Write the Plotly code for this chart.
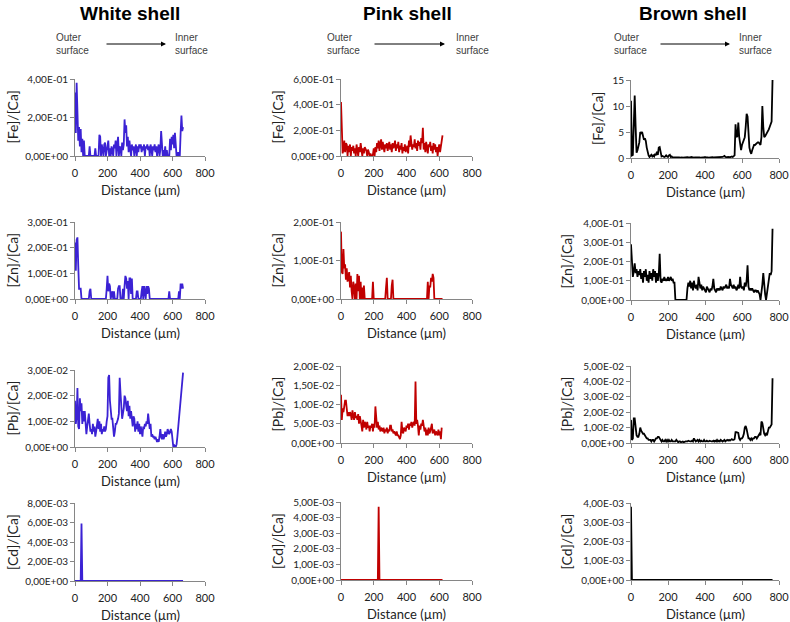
import plotly.graph_objects as go

W, H = 790, 622
STEP = 5  # sampling step along the profile (µm)

# ---------------- data (ratios to Ca) ----------------
white_fe = [0.33,0.12,0.38,0.16,0.08,0.15,0.05,0.14,0.02,0.09,
            0.0,0.08,0.0,0.0,0.0,0.0,0.0,0.0,0.05,0.0,
            0.0,0.0,0.0,0.0,0.0,0.04,0.0,0.0,0.0,0.0,
            0.11,0.10,0.0,0.06,0.03,0.0,0.06,0.07,0.0,0.03,
            0.05,0.08,0.0,0.04,0.0,0.05,0.03,0.0,0.06,0.04,
            0.08,0.0,0.06,0.10,0.0,0.05,0.04,0.0,0.07,0.03,
            0.06,0.19,0.12,0.16,0.05,0.10,0.02,0.08,0.04,0.0,
            0.06,0.03,0.05,0.0,0.04,0.06,0.0,0.05,0.02,0.06,
            0.04,0.06,0.02,0.05,0.03,0.06,0.0,0.05,0.04,0.06,
            0.03,0.05,0.0,0.06,0.04,0.0,0.05,0.03,0.06,0.02,
            0.05,0.0,0.04,0.06,0.0,0.03,0.13,0.07,0.0,0.03,
            0.0,0.05,0.0,0.03,0.0,0.0,0.0,0.09,0.03,0.10,
            0.06,0.11,0.04,0.12,0.03,0.0,0.0,0.02,0.0,0.0,
            0.12,0.21,0.13,0.15]
white_zn = [0.22,0.11,0.23,0.24,0.13,0.04,0.04,0.04,0.0,0.0,
            0.0,0.0,0.0,0.0,0.0,0.0,0.0,0.0,0.03,0.04,
            0.0,0.0,0.0,0.0,0.0,0.0,0.0,0.0,0.0,0.0,
            0.0,0.0,0.0,0.0,0.0,0.0,0.0,0.0,0.0,0.04,
            0.09,0.03,0.06,0.05,0.0,0.02,0.03,0.0,0.03,0.0,
            0.0,0.0,0.0,0.04,0.05,0.05,0.0,0.0,0.0,0.04,
            0.0,0.05,0.09,0.08,0.04,0.07,0.0,0.08,0.08,0.02,
            0.08,0.0,0.0,0.0,0.0,0.0,0.03,0.03,0.0,0.0,
            0.0,0.0,0.03,0.05,0.0,0.05,0.03,0.0,0.05,0.02,
            0.05,0.04,0.0,0.0,0.0,0.0,0.0,0.0,0.0,0.0,
            0.0,0.0,0.0,0.0,0.0,0.0,0.0,0.0,0.0,0.0,
            0.0,0.0,0.0,0.0,0.0,0.0,0.03,0.0,0.0,0.0,
            0.0,0.0,0.0,0.0,0.0,0.0,0.0,0.0,0.03,0.0,
            0.06,0.04,0.06,0.04]
white_pb = [0.018,0.009,0.012,0.023,0.008,0.007,0.019,0.014,0.017,0.009,
            0.014,0.010,0.014,0.008,0.005,0.008,0.010,0.013,0.009,0.006,
            0.007,0.005,0.009,0.006,0.008,0.004,0.006,0.009,0.011,0.007,
            0.010,0.006,0.009,0.005,0.007,0.006,0.008,0.006,0.007,0.010,
            0.012,0.027,0.028,0.018,0.012,0.011,0.011,0.008,0.004,0.006,
            0.009,0.009,0.010,0.011,0.013,0.027,0.021,0.012,0.011,0.013,
            0.015,0.020,0.019,0.016,0.014,0.018,0.012,0.016,0.011,0.014,
            0.009,0.008,0.012,0.011,0.006,0.009,0.007,0.010,0.006,0.009,
            0.005,0.008,0.006,0.004,0.008,0.007,0.009,0.008,0.010,0.009,
            0.013,0.008,0.007,0.009,0.004,0.005,0.004,0.004,0.003,0.004,
            0.003,0.002,0.003,0.002,0.004,0.007,0.004,0.003,0.005,0.003,
            0.004,0.006,0.004,0.005,0.007,0.006,0.005,0.006,0.007,0.006,
            0.001,0.0,0.001,0.0,0.0,0.001,0.004,0.008,0.012,0.016,
            0.020,0.024,0.027,0.029]
white_cd_dist = [0, 35, 40, 45, 665]
white_cd = [0.0, 0.0, 0.0059, 0.0, 0.0]

pink_fe = [0.42,0.15,0.02,0.05,0.12,0.03,0.10,0.09,0.0,0.08,
           0.03,0.09,0.0,0.07,0.04,0.08,0.02,0.06,0.0,0.09,
           0.04,0.0,0.07,0.03,0.10,0.05,0.0,0.06,0.02,0.07,
           0.06,0.04,0.0,0.05,0.03,0.0,0.02,0.0,0.0,0.01,
           0.06,0.0,0.07,0.03,0.10,0.06,0.12,0.04,0.09,0.13,
           0.05,0.11,0.07,0.03,0.09,0.06,0.10,0.04,0.08,0.11,
           0.05,0.09,0.03,0.10,0.06,0.08,0.12,0.04,0.09,0.06,
           0.11,0.03,0.08,0.05,0.10,0.02,0.07,0.04,0.09,0.03,
           0.06,0.08,0.02,0.12,0.07,0.16,0.10,0.05,0.09,0.07,
           0.13,0.06,0.10,0.04,0.12,0.08,0.11,0.05,0.14,0.10,
           0.22,0.05,0.10,0.03,0.11,0.06,0.02,0.09,0.07,0.11,
           0.04,0.08,0.02,0.10,0.05,0.09,0.03,0.07,0.0,0.06,
           0.09,0.03,0.08,0.13,0.16]
pink_zn = [0.175,0.07,0.065,0.13,0.08,0.09,0.05,0.08,0.045,0.06,
           0.07,0.03,0.06,0.02,0.0,0.045,0.03,0.0,0.04,0.0,
           0.065,0.02,0.06,0.0,0.045,0.0,0.03,0.0,0.035,0.0,
           0.0,0.0,0.0,0.0,0.0,0.0,0.0,0.0,0.0,0.045,
           0.0,0.0,0.0,0.0,0.0,0.0,0.0,0.0,0.0,0.0,
           0.0,0.0,0.0,0.0,0.0,0.03,0.055,0.0,0.0,0.0,
           0.0,0.0,0.035,0.05,0.0,0.0,0.0,0.0,0.0,0.0,
           0.0,0.0,0.0,0.0,0.0,0.0,0.0,0.0,0.0,0.0,
           0.0,0.0,0.0,0.0,0.0,0.0,0.0,0.0,0.0,0.0,
           0.0,0.0,0.0,0.0,0.0,0.0,0.0,0.0,0.0,0.0,
           0.0,0.0,0.0,0.0,0.0,0.0,0.045,0.0,0.035,0.03,
           0.055,0.045,0.065,0.055,0.0,0.0,0.0,0.0,0.0,0.0,
           0.0,0.0,0.0,0.0,0.0]
pink_pb = [0.0125,0.006,0.009,0.008,0.0095,0.011,0.011,0.008,0.007,0.008,
           0.007,0.008,0.0075,0.006,0.0085,0.007,0.006,0.008,0.0065,0.007,
           0.006,0.0075,0.005,0.007,0.006,0.0045,0.003,0.006,0.004,0.0055,
           0.005,0.0035,0.0055,0.004,0.0045,0.003,0.0045,0.004,0.005,0.003,
           0.005,0.004,0.0095,0.0055,0.004,0.0055,0.0035,0.0045,0.003,0.004,
           0.0035,0.003,0.004,0.0025,0.0035,0.003,0.004,0.0025,0.0035,0.003,
           0.0045,0.0045,0.003,0.0035,0.0025,0.003,0.0025,0.002,0.003,0.002,
           0.002,0.0015,0.001,0.002,0.0055,0.003,0.0025,0.004,0.0035,0.003,
           0.0045,0.004,0.005,0.0035,0.005,0.0045,0.0055,0.004,0.005,0.0055,
           0.0045,0.016,0.005,0.006,0.0045,0.002,0.0045,0.0035,0.005,0.0045,
           0.006,0.0035,0.003,0.004,0.002,0.0035,0.002,0.004,0.0025,0.003,
           0.004,0.005,0.0025,0.003,0.0035,0.002,0.003,0.0025,0.002,0.0035,
           0.002,0.003,0.001,0.004]
pink_cd_dist = [0, 225, 230, 235, 620]
pink_cd = [0.0, 0.0, 0.0047, 0.0, 0.0]

brown_fe = [11,0.5,0.6,6,12,6,1,1.5,2.5,3,
            5,4.8,5,4,3.5,3.8,3.3,2,1,0.5,
            0.2,0.4,0.6,0.3,0.5,0.3,0.8,0.5,1.2,0.6,
            2,2.1,0.6,0.3,0.4,0.3,0.2,0.3,0.5,0.3,
            0.2,0.5,0.6,0.2,0.3,0.1,0.1,0.2,0.1,0.1,
            0.1,0.1,0.1,0.05,0.1,0.1,0.05,0.1,0.1,0.05,
            0.1,0.15,0.1,0.05,0.1,0.2,0.1,0.1,0.05,0.1,
            0.1,0.15,0.2,0.1,0.1,0.05,0.1,0.15,0.1,0.1,
            0.2,0.1,0.15,0.1,0.05,0.1,0.1,0.2,0.15,0.1,
            0.1,0.15,0.1,0.1,0.2,0.1,0.15,0.1,0.1,0.2,
            0.3,0.4,0.2,0.1,0.15,0.2,0.1,0.15,0.2,0.3,
            0.2,0.3,0.5,6.5,4,4.2,6.8,4,2,1.5,
            2.5,3,3.5,4,6,8.5,8,4,2,1.2,
            0.8,1.5,2.2,2.5,2.5,2.7,3,3,3,2.8,
            2.5,4,10,6,4,4.2,4.5,4.8,5,5.5,
            6,6.5,7,15]
brown_zn = [0.29,0.17,0.12,0.15,0.19,0.14,0.16,0.12,0.15,0.13,
            0.16,0.11,0.14,0.09,0.15,0.12,0.16,0.10,0.13,0.09,
            0.15,0.11,0.14,0.10,0.16,0.12,0.15,0.09,0.14,0.10,
            0.13,0.24,0.10,0.09,0.11,0.10,0.12,0.10,0.11,0.10,
            0.12,0.10,0.11,0.12,0.10,0.11,0.09,0.09,0.0,0.0,
            0.0,0.0,0.0,0.0,0.0,0.0,0.0,0.0,0.0,0.0,
            0.0,0.06,0.09,0.07,0.10,0.06,0.09,0.05,0.10,0.07,
            0.06,0.08,0.05,0.12,0.07,0.06,0.08,0.05,0.07,0.06,
            0.05,0.04,0.07,0.06,0.05,0.04,0.06,0.05,0.07,0.11,
            0.06,0.05,0.04,0.06,0.05,0.06,0.05,0.07,0.06,0.05,
            0.07,0.06,0.07,0.08,0.06,0.07,0.06,0.11,0.08,0.07,
            0.06,0.08,0.06,0.07,0.05,0.06,0.08,0.06,0.12,0.07,
            0.06,0.07,0.05,0.09,0.07,0.10,0.18,0.07,0.05,0.06,
            0.05,0.06,0.05,0.04,0.05,0.05,0.04,0.05,0.04,0.03,
            0.0,0.03,0.08,0.14,0.06,0.03,0.0,0.04,0.06,0.10,
            0.14,0.13,0.15,0.37]
brown_pb = [0.015,0.002,0.003,0.016,0.016,0.008,0.005,0.004,0.004,0.006,
            0.010,0.008,0.007,0.006,0.006,0.005,0.004,0.003,0.003,0.002,
            0.002,0.002,0.001,0.002,0.002,0.001,0.002,0.003,0.003,0.004,
            0.004,0.003,0.002,0.001,0.002,0.001,0.001,0.002,0.001,0.002,
            0.001,0.002,0.001,0.001,0.002,0.001,0.001,0.001,0.001,0.002,
            0.001,0.0005,0.001,0.001,0.0005,0.001,0.001,0.0005,0.001,0.001,
            0.001,0.001,0.0015,0.001,0.001,0.001,0.0015,0.001,0.003,0.002,
            0.001,0.0015,0.002,0.001,0.002,0.001,0.0015,0.001,0.001,0.002,
            0.001,0.001,0.0015,0.001,0.001,0.0015,0.001,0.001,0.001,0.0015,
            0.001,0.0015,0.001,0.002,0.001,0.0015,0.001,0.002,0.0015,0.001,
            0.0015,0.002,0.001,0.0015,0.002,0.0015,0.002,0.0015,0.002,0.0025,
            0.002,0.002,0.0025,0.007,0.007,0.0065,0.0065,0.003,0.002,0.003,
            0.003,0.004,0.006,0.010,0.011,0.009,0.005,0.003,0.003,0.002,
            0.003,0.002,0.003,0.003,0.004,0.004,0.003,0.004,0.005,0.006,
            0.005,0.014,0.013,0.008,0.006,0.005,0.006,0.005,0.009,0.010,
            0.010,0.011,0.012,0.042]
brown_cd_dist = [0, 5, 765]
brown_cd = [0.0038, 0.0, 0.0]

# ---------------- tick labels ----------------
x_ticks = [0, 200, 400, 600, 800]
x_ticktext = ["0", "200", "400", "600", "800"]

yt_white_fe = [0, 0.2, 0.4];            yl_white_fe = ["0,00E+00", "2,00E-01", "4,00E-01"]
yt_white_zn = [0, 0.1, 0.2, 0.3];       yl_white_zn = ["0,00E+00", "1,00E-01", "2,00E-01", "3,00E-01"]
yt_white_pb = [0, 0.01, 0.02, 0.03];    yl_white_pb = ["0,00E+00", "1,00E-02", "2,00E-02", "3,00E-02"]
yt_white_cd = [0, 0.002, 0.004, 0.006, 0.008]
yl_white_cd = ["0,00E+00", "2,00E-03", "4,00E-03", "6,00E-03", "8,00E-03"]
yt_pink_fe = [0, 0.2, 0.4, 0.6];        yl_pink_fe = ["0,00E+00", "2,00E-01", "4,00E-01", "6,00E-01"]
yt_pink_zn = [0, 0.1, 0.2];             yl_pink_zn = ["0,00E+00", "1,00E-01", "2,00E-01"]
yt_pink_pb = [0, 0.005, 0.01, 0.015, 0.02]
yl_pink_pb = ["0,00E+00", "5,00E-03", "1,00E-02", "1,50E-02", "2,00E-02"]
yt_pink_cd = [0, 0.001, 0.002, 0.003, 0.004, 0.005]
yl_pink_cd = ["0,00E+00", "1,00E-03", "2,00E-03", "3,00E-03", "4,00E-03", "5,00E-03"]
yt_brown_fe = [0, 5, 10, 15];           yl_brown_fe = ["0", "5", "10", "15"]
yt_brown_zn = [0, 0.1, 0.2, 0.3, 0.4]
yl_brown_zn = ["0,00E+00", "1,00E-01", "2,00E-01", "3,00E-01", "4,00E-01"]
yt_brown_pb = [0, 0.01, 0.02, 0.03, 0.04, 0.05]
yl_brown_pb = ["0,00E+00", "1,00E-02", "2,00E-02", "3,00E-02", "4,00E-02", "5,00E-02"]
yt_brown_cd = [0, 0.001, 0.002, 0.003, 0.004]
yl_brown_cd = ["0,00E+00", "1,00E-03", "2,00E-03", "3,00E-03", "4,00E-03"]

shells = ["White shell", "Pink shell", "Brown shell"]
colors = ["#3b22d4", "#c00000", "#000000"]
ylabels = ["[Fe]/[Ca]", "[Zn]/[Ca]", "[Pb]/[Ca]", "[Cd]/[Ca]"]


def dist(vals):
    return [i * STEP for i in range(len(vals))]


# (col, row, x, y, tickvals, ticktext)
panels = [
    (0, 0, dist(white_fe), white_fe, yt_white_fe, yl_white_fe),
    (0, 1, dist(white_zn), white_zn, yt_white_zn, yl_white_zn),
    (0, 2, dist(white_pb), white_pb, yt_white_pb, yl_white_pb),
    (0, 3, white_cd_dist, white_cd, yt_white_cd, yl_white_cd),
    (1, 0, dist(pink_fe), pink_fe, yt_pink_fe, yl_pink_fe),
    (1, 1, dist(pink_zn), pink_zn, yt_pink_zn, yl_pink_zn),
    (1, 2, dist(pink_pb), pink_pb, yt_pink_pb, yl_pink_pb),
    (1, 3, pink_cd_dist, pink_cd, yt_pink_cd, yl_pink_cd),
    (2, 0, dist(brown_fe), brown_fe, yt_brown_fe, yl_brown_fe),
    (2, 1, dist(brown_zn), brown_zn, yt_brown_zn, yl_brown_zn),
    (2, 2, dist(brown_pb), brown_pb, yt_brown_pb, yl_brown_pb),
    (2, 3, brown_cd_dist, brown_cd, yt_brown_cd, yl_brown_cd),
]

# ---------------- layout geometry (pixels) ----------------
col_x = [(75, 205), (341, 472), (631, 779)]
row_y = [
    [(79, 156), (222, 299), (370, 447), (503, 581)],
    [(79, 156), (222, 299), (366, 443), (502, 580)],
    [(80, 158), (223, 300), (366, 443), (503, 580)],
]
ytitle_x = [[12, 12, 12, 12], [277, 277, 277, 277], [598, 566, 566, 566]]
title_x = [130, 407, 693]
outer_x = [54, 325, 612]
arrow_x = [(105, 166), (373, 445), (659, 730)]
inner_x = [173, 454, 737]

AXC = "#868686"
TICKFONT = dict(family="Lato, Carlito, Liberation Sans, sans-serif", size=10, color="#222222")
LABFONT = dict(family="Lato, Carlito, Liberation Sans, sans-serif", size=13, color="#222222")

fig = go.Figure()
layout = dict(width=W, height=H, autosize=False, template="none",
              margin=dict(l=0, r=0, t=0, b=0, pad=0, autoexpand=False),
              paper_bgcolor="white", plot_bgcolor="white", showlegend=False)
annotations = []

for i, (c, r, xs, ys, tv, tt) in enumerate(panels):
    n = "" if i == 0 else str(i + 1)
    fig.add_trace(go.Scatter(x=xs, y=ys, mode="lines",
                             line=dict(color=colors[c], width=1.8),
                             xaxis="x" + n, yaxis="y" + n, hoverinfo="skip"))
    x0, x1 = col_x[c]
    yt, yb = row_y[c][r]
    layout["xaxis" + n] = dict(domain=[x0 / W, x1 / W], anchor="y" + n, range=[0, 800],
                               tickvals=x_ticks, ticktext=x_ticktext, showgrid=False,
                               zeroline=False, showline=True, linecolor=AXC, linewidth=1,
                               ticks="outside", ticklen=4, tickcolor=AXC, automargin=False,
                               tickfont=dict(TICKFONT, size=11), ticklabelstandoff=3)
    layout["yaxis" + n] = dict(domain=[1 - yb / H, 1 - yt / H], anchor="x" + n,
                               range=[0, tv[-1]], tickvals=tv, ticktext=tt, showgrid=False,
                               zeroline=False, showline=True, linecolor=AXC, linewidth=1,
                               ticks="outside", ticklen=4, tickcolor=AXC, automargin=False,
                               tickfont=TICKFONT)
    annotations.append(dict(text="Distance (µm)", x=(x0 + x1) / 2 / W, y=1 - (yb + 34) / H,
                            xref="paper", yref="paper", showarrow=False,
                            xanchor="center", yanchor="middle", font=LABFONT))
    annotations.append(dict(text=ylabels[r], x=ytitle_x[c][r] / W, y=1 - (yt + yb) / 2 / H,
                            xref="paper", yref="paper", showarrow=False, textangle=-90,
                            xanchor="center", yanchor="middle", font=dict(LABFONT, size=14)))

for c in range(3):
    annotations.append(dict(text="<b>" + shells[c] + "</b>", x=title_x[c] / W, y=1 - 13 / H,
                            xref="paper", yref="paper", showarrow=False,
                            xanchor="center", yanchor="middle",
                            font=dict(family="Liberation Sans, Arial, sans-serif", size=19,
                                      color="black")))
    sfont = dict(family="Liberation Sans, Arial, sans-serif", size=10, color="#404040")
    annotations.append(dict(text="Outer<br>surface", x=outer_x[c] / W, y=1 - 44 / H,
                            xref="paper", yref="paper", showarrow=False, align="left",
                            xanchor="left", yanchor="middle", font=sfont))
    annotations.append(dict(text="Inner<br>surface", x=inner_x[c] / W, y=1 - 44 / H,
                            xref="paper", yref="paper", showarrow=False, align="left",
                            xanchor="left", yanchor="middle", font=sfont))
    a0, a1 = arrow_x[c]
    annotations.append(dict(text="", x=a1 / W, y=1 - 44 / H, xref="paper", yref="paper",
                            showarrow=True, ax=-(a1 - a0), ay=0, arrowhead=2,
                            arrowsize=1, arrowwidth=1, arrowcolor="black", standoff=0))

layout["annotations"] = annotations
fig.update_layout(**layout)
fig.write_html("out.html", config={"displayModeBar": False},
               post_script="document.body.style.margin='0';"
                           "document.body.style.overflow='hidden';")
